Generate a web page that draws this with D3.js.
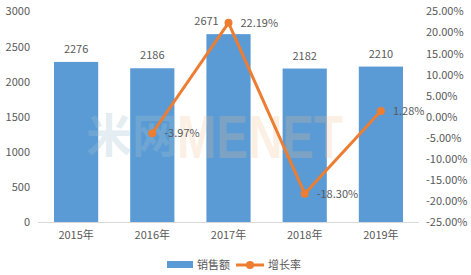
<!DOCTYPE html>
<html lang="zh">
<head>
    <meta charset="UTF-8">
    <title>销售额与增长率</title>
    <script src="https://d3js.org/d3.v7.min.js"></script>
    <style>
        body { margin: 0; background: #fff; }
        text { font-family: "Noto Sans CJK SC", "Noto Sans", sans-serif; fill: #595959; }
    </style>
</head>
<body>
<script>
    const years = ["2015年", "2016年", "2017年", "2018年", "2019年"];
    const sales = [2276, 2186, 2671, 2182, 2210];
    const growth = [null, -3.97, 22.19, -18.30, 1.28];
    const leftTicks = [0, 500, 1000, 1500, 2000, 2500, 3000];
    const rightTicks = [-25, -20, -15, -10, -5, 0, 5, 10, 15, 20, 25];

    const WIDTH = 471, HEIGHT = 275;
    const plotL = 38, plotR = 419, plotT = 11, plotB = 222;
    const BLUE = "#5b9bd5", ORANGE = "#ed7d31";

    const svg = d3.select("body").append("svg").attr("width", WIDTH).attr("height", HEIGHT);

    const x = d3.scaleBand().domain(years).range([plotL, plotR]).paddingInner(0.42).paddingOuter(0.21);
    const y = d3.scaleLinear().domain([0, 3000]).range([plotB, plotT]);
    const y2 = d3.scaleLinear().domain([-25, 25]).range([plotB, plotT]);

    // left axis
    const yAxis = svg.append("g").attr("transform", `translate(${plotL},0)`)
        .call(d3.axisLeft(y).tickValues(leftTicks).tickSize(0).tickPadding(8).tickFormat(d3.format("d")));
    yAxis.select(".domain").remove();
    yAxis.selectAll("text").style("font-size", "11px").attr("dy", "0.35em");

    // right axis
    const y2Axis = svg.append("g").attr("transform", `translate(${plotR},0)`)
        .call(d3.axisRight(y2).tickValues(rightTicks).tickSize(0).tickPadding(7)
            .tickFormat(d => d.toFixed(2) + "%"));
    y2Axis.select(".domain").remove();
    y2Axis.selectAll("text").style("font-size", "11px").attr("dy", "0.35em");

    // bars
    svg.selectAll("rect.bar").data(sales).join("rect")
        .attr("class", "bar")
        .attr("x", (d, i) => x(years[i]))
        .attr("y", d => y(d))
        .attr("width", x.bandwidth())
        .attr("height", d => y(0) - y(d))
        .attr("fill", BLUE);

    // bar labels (the 2017 one sits left of the line marker)
    svg.selectAll("text.barlab").data(sales).join("text")
        .attr("class", "barlab")
        .attr("x", (d, i) => x(years[i]) + x.bandwidth() / 2 - (i === 2 ? 22 : 0))
        .attr("y", d => y(d) - 9)
        .attr("text-anchor", "middle")
        .style("font-size", "11px")
        .text(d => d);

    // baseline
    svg.append("line").attr("x1", plotL).attr("x2", plotR)
        .attr("y1", y(0) + 0.5).attr("y2", y(0) + 0.5)
        .attr("stroke", "#d9d9d9").attr("stroke-width", 1);

    // x labels
    const xAxis = svg.append("g").attr("transform", `translate(0,${plotB})`)
        .call(d3.axisBottom(x).tickSize(0).tickPadding(9));
    xAxis.select(".domain").remove();
    xAxis.selectAll("text").style("font-size", "11px");

    // watermark
    const wm = svg.append("g").style("pointer-events", "none");
    wm.append("text").attr("x", 86).attr("y", 152)
        .style("font-size", "46px").style("font-weight", "bold")
        .style("fill", "#a0c1cf").style("opacity", 0.28)
        .text("米网");
    wm.append("text").attr("x", 177).attr("y", 158)
        .style("font-size", "62px").style("font-weight", "bold")
        .style("font-family", "Arial, 'Liberation Sans', sans-serif")
        .style("fill", "#f6bf8d").style("opacity", 0.22)
        .attr("textLength", 166).attr("lengthAdjust", "spacingAndGlyphs")
        .text("MENET");

    // growth line
    const pts = growth.map((g, i) => ({ g, cx: x(years[i]) + x.bandwidth() / 2 })).filter(d => d.g !== null);
    const line = d3.line().x(d => d.cx).y(d => y2(d.g));
    svg.append("path").datum(pts)
        .attr("d", line).attr("fill", "none")
        .attr("stroke", ORANGE).attr("stroke-width", 3).attr("stroke-linejoin", "round");
    svg.selectAll("circle.pt").data(pts).join("circle")
        .attr("class", "pt")
        .attr("cx", d => d.cx).attr("cy", d => y2(d.g)).attr("r", 4)
        .attr("fill", ORANGE);
    svg.selectAll("text.ptlab").data(pts).join("text")
        .attr("class", "ptlab")
        .attr("x", d => d.cx + 12)
        .attr("y", d => y2(d.g) + 4)
        .style("font-size", "11px")
        .text(d => d.g.toFixed(2) + "%");

    // legend
    const lg = svg.append("g").attr("transform", "translate(0,265)");
    lg.append("rect").attr("x", 167).attr("y", -4).attr("width", 26).attr("height", 7).attr("fill", BLUE);
    lg.append("text").attr("x", 197).attr("y", 4).style("font-size", "11px").text("销售额");
    lg.append("line").attr("x1", 236).attr("x2", 264).attr("y1", 0).attr("y2", 0)
        .attr("stroke", ORANGE).attr("stroke-width", 3);
    lg.append("circle").attr("cx", 250).attr("cy", 0).attr("r", 4).attr("fill", ORANGE);
    lg.append("text").attr("x", 268).attr("y", 4).style("font-size", "11px").text("增长率");
</script>
</body>
</html>
